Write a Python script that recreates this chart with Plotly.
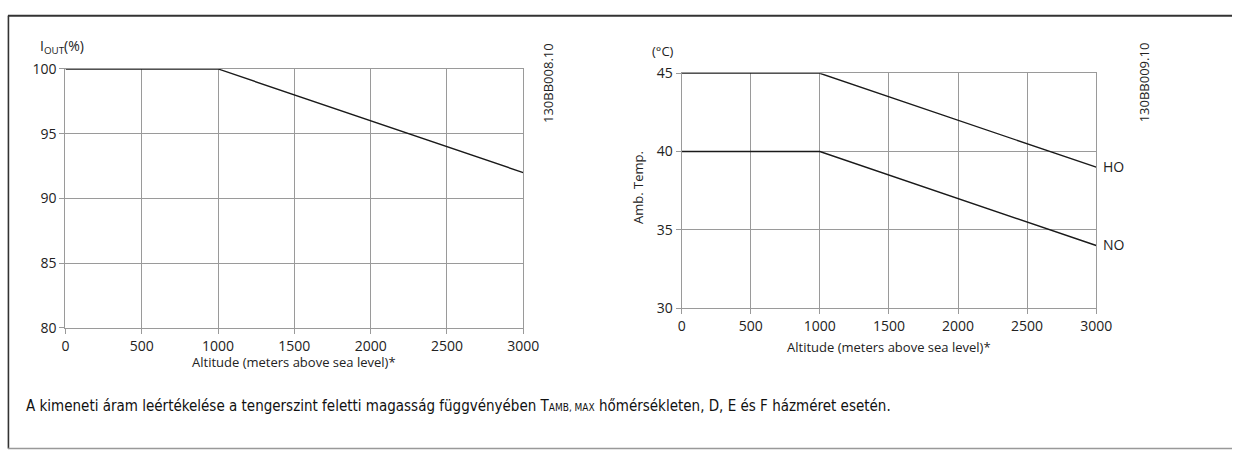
import plotly.graph_objects as go

W, H = 1248, 459

# Data
altitude = [0, 1000, 3000]
iout_pct = [100, 100, 92]
temp_ho = [45, 45, 39]
temp_no = [40, 40, 34]
x_ticks = [0, 500, 1000, 1500, 2000, 2500, 3000]
y1_ticks = [80, 85, 90, 95, 100]
y2_ticks = [30, 35, 40, 45]

def px_x(p):
    return p / W

def px_y(p):
    return 1 - p / H

fig = go.Figure()
line_style = dict(color="#1a1a1a", width=1.4)
fig.add_trace(go.Scatter(x=altitude, y=iout_pct, mode="lines", line=line_style,
                         xaxis="x", yaxis="y", showlegend=False, hoverinfo="skip"))
fig.add_trace(go.Scatter(x=altitude, y=temp_ho, mode="lines", line=line_style,
                         xaxis="x2", yaxis="y2", showlegend=False, hoverinfo="skip"))
fig.add_trace(go.Scatter(x=altitude, y=temp_no, mode="lines", line=line_style,
                         xaxis="x2", yaxis="y2", showlegend=False, hoverinfo="skip"))

grid = "#9a9a9a"
tickfont = dict(family="Open Sans", size=14, color="#222")
ax_common = dict(showgrid=True, gridcolor=grid, gridwidth=1.2, zeroline=False,
                 showline=True, linecolor=grid, linewidth=1.2, mirror=True,
                 ticks="outside", ticklen=5, tickcolor=grid, tickwidth=1.2,
                 tickfont=tickfont, fixedrange=True)

fig.update_layout(
    width=W, height=H,
    margin=dict(l=0, r=0, t=0, b=0),
    paper_bgcolor="white", plot_bgcolor="white",
    xaxis=dict(domain=[px_x(62.5), px_x(527.7)], range=[0, 3000], tickvals=x_ticks,
               anchor="y", **ax_common),
    yaxis=dict(domain=[px_y(331.7), px_y(61.5)], range=[80, 100], tickvals=y1_ticks,
               anchor="x", **ax_common),
    xaxis2=dict(domain=[px_x(688.7), px_x(1110)], range=[0, 3000], tickvals=x_ticks,
                anchor="y2", **ax_common),
    yaxis2=dict(domain=[px_y(311), px_y(66)], range=[30, 45], tickvals=y2_ticks,
                anchor="x2", **ax_common),
)

lab = dict(family="Open Sans", size=13, color="#222")
big = dict(family="Open Sans", size=14, color="#222")
ann = [
    dict(x=px_x(295), y=px_y(367), text="Altitude (meters above sea level)*"),
    dict(x=px_x(899), y=px_y(352), text="Altitude (meters above sea level)*"),
    dict(x=px_x(59), y=px_y(51.5), text="I<sub>OUT</sub>(%)", font=big, yanchor="bottom"),
    dict(x=px_x(670), y=px_y(43), text="(°C)"),
    dict(x=px_x(645), y=px_y(185), text="Amb. Temp.", textangle=-90),
    dict(x=px_x(1128), y=px_y(163), text="HO", font=big),
    dict(x=px_x(1128), y=px_y(245), text="NO", font=big),
    dict(x=px_x(553), y=px_y(76), text="130BB008.10", textangle=-90),
    dict(x=px_x(1158), y=px_y(75), text="130BB009.10", textangle=-90),
]
annotations = []
for a in ann:
    d = dict(xref="paper", yref="paper", showarrow=False, font=lab,
             xanchor="center", yanchor="middle")
    d.update(a)
    annotations.append(d)
annotations.append(dict(
    xref="paper", yref="paper", x=px_x(20), y=px_y(413), xanchor="left", yanchor="middle",
    showarrow=False, font=dict(family="DejaVu Sans Condensed", size=15, color="#111"),
    text="A kimeneti áram leértékelése a tengerszint feletti magasság függvényében "
         "T<span style='font-size:10px'>AMB, MAX</span> hőmérsékleten, D, E és F házméret esetén."))
fig.update_layout(annotations=annotations)

fig.update_layout(shapes=[
    dict(type="line", xref="paper", yref="paper", x0=px_x(4), x1=1, y0=px_y(6), y1=px_y(6),
         line=dict(color="#333", width=2)),
    dict(type="line", xref="paper", yref="paper", x0=px_x(4.5), x1=px_x(4.5), y0=px_y(6), y1=px_y(457.5),
         line=dict(color="#333", width=1.6)),
    dict(type="line", xref="paper", yref="paper", x0=px_x(4), x1=1, y0=px_y(457.5), y1=px_y(457.5),
         line=dict(color="#999", width=1.5)),
])

fig.write_html("out.html", config={"displayModeBar": False},
               post_script="document.body.style.margin='0';document.body.style.overflow='hidden';")
